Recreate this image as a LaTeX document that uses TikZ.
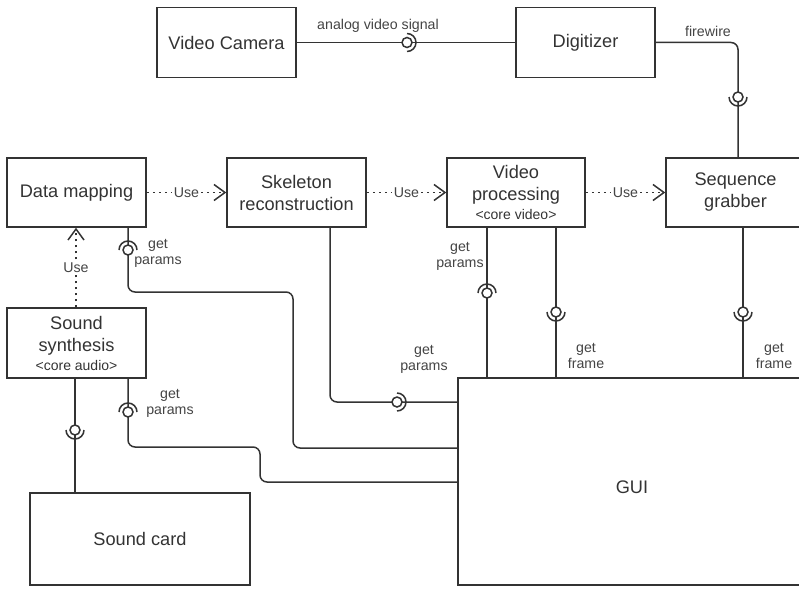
\documentclass[tikz,border=0pt]{standalone}
\usepackage{fontspec}
\setmainfont{Liberation Sans}
\usetikzlibrary{arrows.meta,calc}
\definecolor{ink}{HTML}{333333}
\definecolor{tagink}{HTML}{444444}

\tikzset{
  box/.style={draw=ink, line width=1.5pt, inner sep=0pt, align=center, text=ink,
    font=\fontsize{18.2}{22}\selectfont},
  wire/.style={draw=ink, line width=1.5pt, rounded corners=7pt},
  usedep/.style={draw=ink, line width=1.5pt, dash pattern=on 2.5pt off 3.5pt,
    -{Straight Barb[length=11pt, width=16pt, line width=1.5pt]}},
  tag/.style={text=tagink, font=\fontsize{14.2}{16}\selectfont, align=center, inner sep=1pt},
  usetag/.style={tag, fill=white, inner sep=2pt},
  ball/.style={draw=ink, line width=1.5pt, fill=white},
  socket/.style={draw=ink, line width=1.5pt},
  % ball-and-socket symbols, named after the side the socket opens towards
  pics/sockup/.style={code={\draw[socket] (9,0) arc (0:-180:9); \draw[ball] (0,0) circle (5);}},
  pics/sockdown/.style={code={\draw[socket] (9,0) arc (0:180:9); \draw[ball] (0,0) circle (5);}},
  pics/sockright/.style={code={\draw[socket] (0,-9) arc (-90:90:9); \draw[ball] (0,0) circle (5);}},
}

\begin{document}
\begin{tikzpicture}[x=1pt, y=-1pt]
\useasboundingbox (0,0) rectangle (799,588);
\clip (0,0) rectangle (799,588);

% components
\node[box, minimum width=139pt, minimum height=70pt] (cam) at (226.5,42.5) {Video Camera};
\node[box, minimum width=139pt, minimum height=70pt] (dig) at (585.5,42.5) {Digitizer};
\node[box, minimum width=139pt, minimum height=69pt] (dm) at (76.5,192.5) {Data mapping};
\node[box, minimum width=139pt, minimum height=69pt] (sk) at (296.5,192.5) {Skeleton\\reconstruction};
\node[box, minimum width=138pt, minimum height=69pt] (vp) at (516,192.5)
  {Video\\processing\\[-3pt]{\fontsize{14}{15}\selectfont <core video>}};
\node[box, minimum width=139pt, minimum height=69pt] (sg) at (735.5,192.5) {Sequence\\grabber};
\node[box, minimum width=139pt, minimum height=70pt] (ss) at (76.5,343)
  {Sound\\synthesis\\[-3pt]{\fontsize{14}{15}\selectfont <core audio>}};
\node[box, minimum width=220pt, minimum height=92pt] (sc) at (140,539) {Sound card};
\node[box, minimum width=348pt, minimum height=207pt] (gui) at (632,481.5)
  {\raisebox{-12pt}[0pt][0pt]{GUI}};

% hardware chain
\draw[wire] (cam) -- (dig);
\pic at (407,42.5) {sockright};
\node[tag] (avs) at (378,26) {analog video signal};

\draw[wire] (dig.east) -- (738,42.5) -- (sg.north -| 738,0);
\pic at (738,97) {sockdown};
\node[tag] (fw) at (708,31) {firewire};

% use dependencies
\draw[usedep] (dm) -- node[usetag] (u1) {Use} (sk);
\draw[usedep] (sk) -- node[usetag] (u2) {Use} (vp);
\draw[usedep] (vp) -- node[usetag] (u3) {Use} (sg);
\draw[usedep] (ss.north -| 76,0) -- node[usetag] (u4) {Use} (dm.south -| 76,0);

% sound card
\draw[wire] (ss.south -| 75,0) -- (sc.north -| 75,0);
\pic at (75,430) {sockdown};

% parameter and frame interfaces of the GUI
\draw[wire] (dm.south -| 128,0) -- (128,292) -- (293,292) -- (293,448) -- (gui.west |- 0,448);
\pic at (128,250) {sockup};
\node[tag] (dmp) at (158,253) {get\\params};

\draw[wire] (ss.south -| 128,0) -- (128,447) -- (260,447) -- (260,482) -- (gui.west |- 0,482);
\pic at (128,412) {sockup};
\node[tag] (ssp) at (170,403) {get\\params};

\draw[wire] (sk.south -| 330,0) -- (330,402) -- (gui.west |- 0,402);
\pic at (397,402) {sockright};
\node[tag] (skp) at (424,359) {get\\params};

\draw[wire] (vp.south -| 487,0) -- (gui.north -| 487,0);
\pic at (487,293) {sockup};
\node[tag] (vpp) at (460,256) {get\\params};

\draw[wire] (vp.south -| 556,0) -- (gui.north -| 556,0);
\pic at (556,312) {sockdown};
\node[tag] (vpf) at (586,356) {get\\frame};

\draw[wire] (sg.south -| 743,0) -- (gui.north -| 743,0);
\pic at (743,312) {sockdown};
\node[tag] (sgf) at (774,356) {get\\frame};
\end{tikzpicture}
\end{document}
